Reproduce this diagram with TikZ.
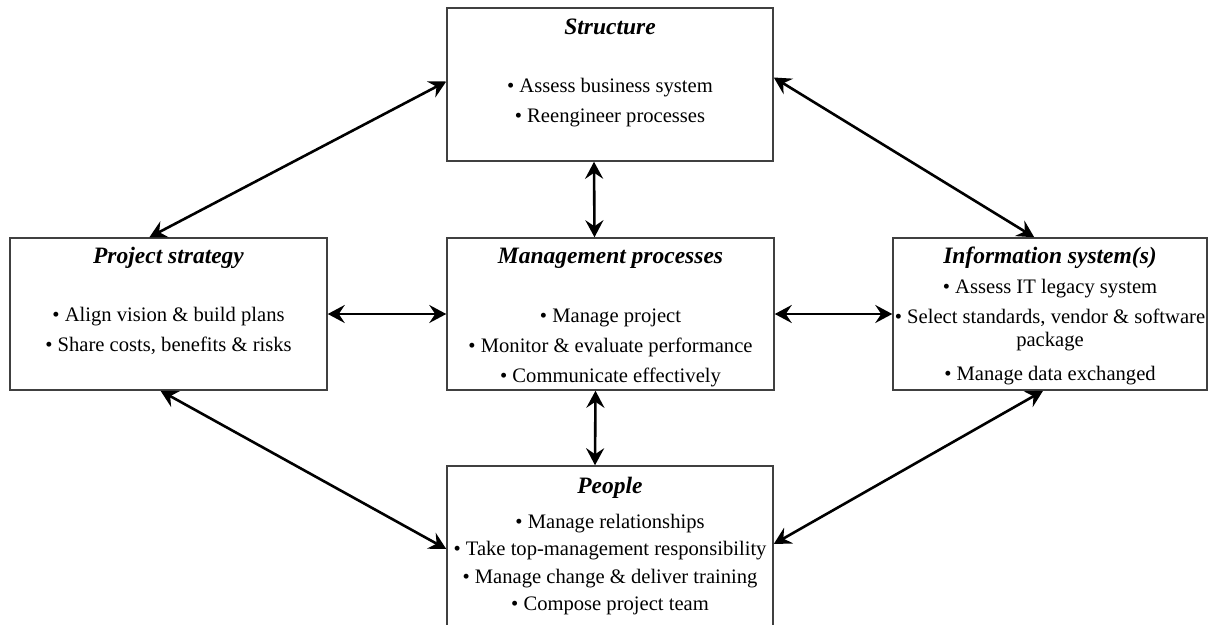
\documentclass[tikz,border=0pt]{standalone}
\usepackage{fontspec}
\setmainfont{Liberation Serif}
\usetikzlibrary{arrows.meta,calc}
\begin{document}
\begin{tikzpicture}[x=1pt,y=-1pt,
  box/.style={draw=black!75,line width=1.5pt,minimum width=#1,inner sep=0pt},
  title/.style={anchor=base,font=\fontsize{23.5}{27}\selectfont\bfseries\itshape},
  item/.style={anchor=base,font=\fontsize{20.6}{25}\selectfont},
  link/.style={line width=2.6pt,{Stealth[length=17pt,width=18pt,inset=6pt]}-{Stealth[length=17pt,width=18pt,inset=6pt]}}]
\useasboundingbox (0,0) rectangle (1209,624);
\clip (0,0) rectangle (1209,624);
% boxes
\node[box=326pt,minimum height=153pt] (struct) at (610,84.5) {};
\node[box=317pt,minimum height=152pt] (ps) at (168.5,314) {};
\node[box=327pt,minimum height=152pt] (mgmt) at (610.5,314) {};
\node[box=314pt,minimum height=152pt] (info) at (1050,314) {};
\node[box=326pt,minimum height=162pt] (people) at (610,547) {};
% Structure
\node[title] (t1) at (610,34) {Structure};
\node[item] (s1) at (610,92) {• Assess business system};
\node[item] (s2) at (610,122) {• Reengineer processes};
% Project strategy
\node[title] (t2) at (168.5,263) {Project strategy};
\node[item] (p1) at (168.5,321) {• Align vision \& build plans};
\node[item] (p2) at (168.5,351) {• Share costs, benefits \& risks};
% Management processes
\node[title] (t3) at (610.5,263) {Management processes};
\node[item] (m1) at (610.5,322) {• Manage project};
\node[item] (m2) at (610.5,352) {• Monitor \& evaluate performance};
\node[item] (m3) at (610.5,382) {• Communicate effectively};
% Information system(s)
\node[title] (t4) at (1050,263) {Information system(s)};
\node[item] (i1) at (1050,293) {• Assess IT legacy system};
\node[item] (i2) at (1050,323) {• Select standards, vendor \& software};
\node[item] (i3) at (1050,346) {package};
\node[item] (i4) at (1050,380) {• Manage data exchanged};
% People
\node[title] (t5) at (610,493) {People};
\node[item] (e1) at (610,528) {• Manage relationships};
\node[item] (e2) at (610,555) {• Take top-management responsibility};
\node[item] (e3) at (610,583) {• Manage change \& deliver training};
\node[item] (e4) at (610,610) {• Compose project team};
% connectors
\draw[link] ([yshift=3pt]struct.west) -- ($(ps.north west)!0.44!(ps.north east)$);
\draw[link] ([yshift=7pt]struct.east) -- ($(info.north west)!0.45!(info.north east)$);
\draw[link] ([xshift=-16pt]struct.south) -- ([xshift=-16pt]mgmt.north);
\draw[link] (ps.east) -- (mgmt.west);
\draw[link] (mgmt.east) -- (info.west);
\draw[link] ([xshift=-15pt]mgmt.south) -- ([xshift=-15pt]people.north);
\draw[link] ($(ps.south west)!0.475!(ps.south east)$) -- ([yshift=-2pt]people.west);
\draw[link] ($(info.south west)!0.478!(info.south east)$) -- ([yshift=3pt]people.east);
\end{tikzpicture}
\end{document}
